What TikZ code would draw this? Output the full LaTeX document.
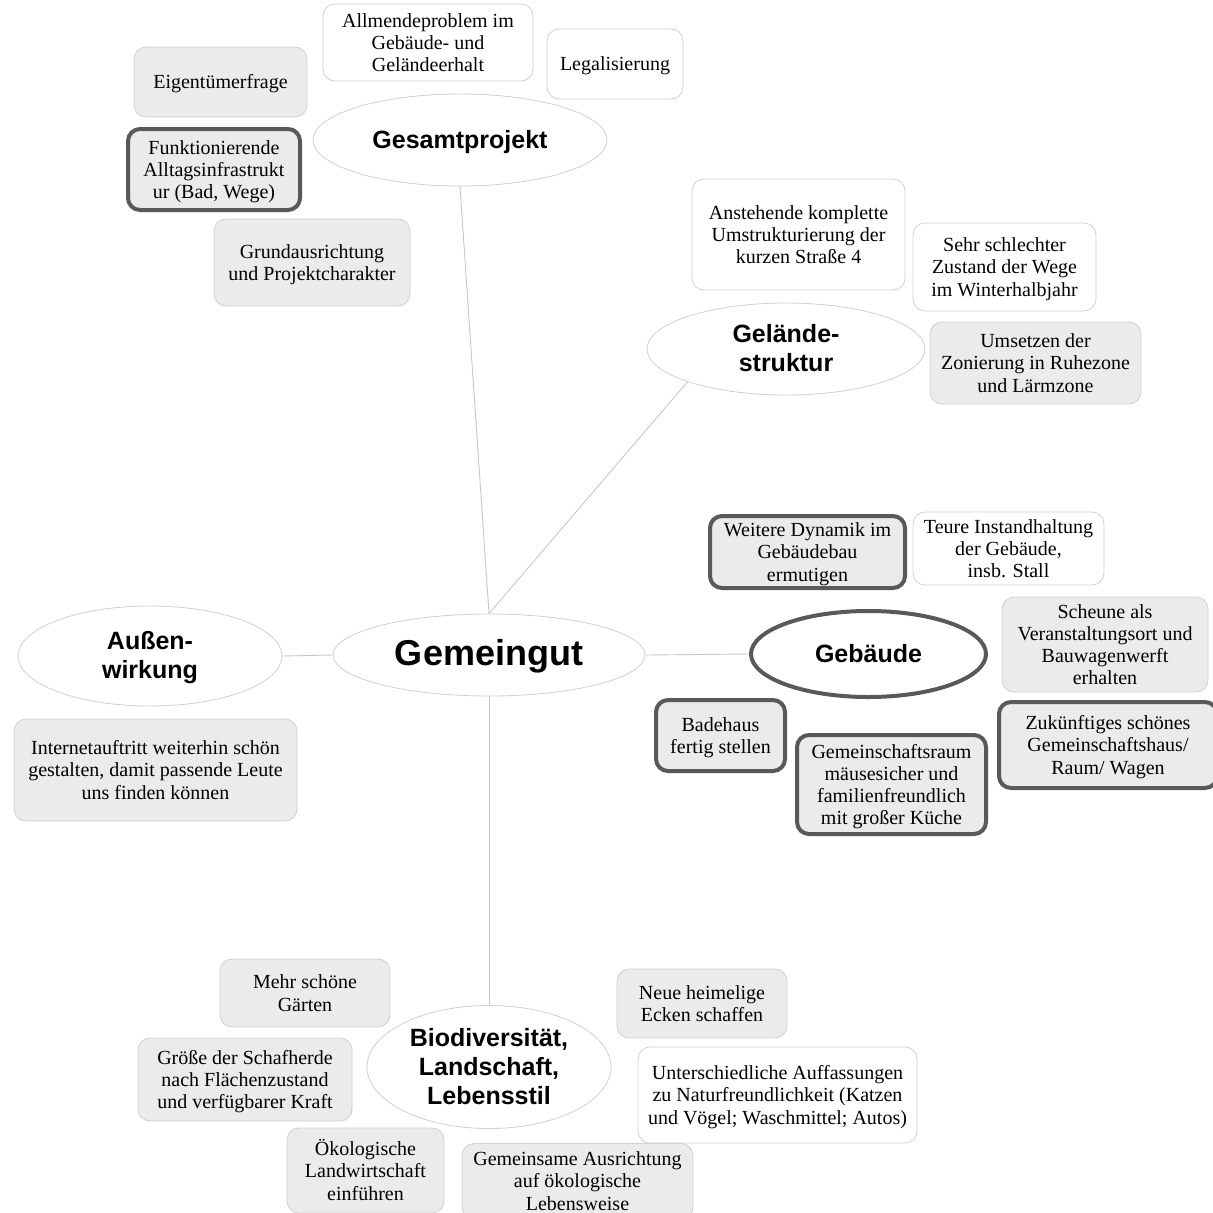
\documentclass[tikz,border=0pt]{standalone}
\usepackage{fontspec}
\setmainfont{Liberation Serif}
\newfontfamily\headfont{Liberation Sans}
\usetikzlibrary{shapes.geometric}

\definecolor{edgegray}{HTML}{C8C8C8}
\definecolor{boxline}{HTML}{D0D0D0}
\definecolor{strongline}{HTML}{595959}
\definecolor{boxfill}{HTML}{EBEBEB}

% centred lines, set a little below the geometric centre of the box
\newcommand{\tx}[1]{\raisebox{-2.5pt}[\height][\depth]{\begin{tabular}{@{}c@{}}#1\end{tabular}}}

\tikzset{
  leaf/.style={rectangle, rounded corners=12pt, draw=boxline, line width=0.8pt,
    fill=white, align=center, inner sep=0pt,
    font=\fontsize{20}{22.3}\selectfont},
  shaded/.style={fill=boxfill},
  strong/.style={draw=strongline, line width=4pt},
  topic/.style={ellipse, draw=boxline, line width=0.8pt, fill=white, inner sep=0pt,
    align=center, font=\headfont\bfseries\fontsize{25}{29}\selectfont},
  link/.style={draw=edgegray, line width=0.9pt},
}

\begin{document}
\begin{tikzpicture}[x=1pt, y=-1pt]
\useasboundingbox[fill=white] (0,0) rectangle (1213,1213);

% central topic and main branches
\node[topic, minimum width=312pt, minimum height=82pt,
      font=\headfont\bfseries\fontsize{36}{40}\selectfont] (gm) at (489,655) {\tx{Gemeingut}};
\node[topic, minimum width=294pt, minimum height=92pt] (gp) at (460,140) {\tx{Gesamtprojekt}};
\node[topic, minimum width=278pt, minimum height=92pt] (gs) at (786,349) {\tx{Gelände-\\struktur}};
\node[topic, strong, minimum width=235pt, minimum height=86pt] (geb) at (868.5,654) {\tx{Gebäude}};
\node[topic, minimum width=264pt, minimum height=100pt] (aus) at (150,656) {\tx{Außen-\\wirkung}};
\node[topic, minimum width=244pt, minimum height=114pt] (bio) at (489,1067) {\tx{Biodiversität,\\Landschaft,\\Lebensstil}};

% connectors from the centre
\draw[link] (gm.north) -- (gp.south);
\draw[link] (gm.north) -- (gs.south west);
\draw[link] (gm.east) -- (geb.west);
\draw[link] (gm.west) -- (aus.east);
\draw[link] (gm.south) -- (bio.north);

% Gesamtprojekt
\node[leaf, minimum width=210pt, minimum height=77pt] (allm) at (428,42.5) {\tx{Allmendeproblem im\\Gebäude- und\\Geländeerhalt}};
\node[leaf, minimum width=136pt, minimum height=70pt] (legal) at (615,64) {\tx{Legalisierung}};
\node[leaf, shaded, minimum width=173pt, minimum height=70pt] (eig) at (220.5,82) {\tx{Eigentümerfrage}};
\node[leaf, shaded, strong, minimum width=172pt, minimum height=81pt] (funk) at (214,169.5) {\tx{Funktionierende\\Alltagsinfrastrukt\\ur (Bad, Wege)}};
\node[leaf, shaded, minimum width=196pt, minimum height=87pt] (grund) at (312,262.5) {\tx{Grundausrichtung\\und Projektcharakter}};

% Geländestruktur
\node[leaf, minimum width=213pt, minimum height=111pt] (anst) at (798.5,234.5) {\tx{Anstehende komplette\\Umstrukturierung der\\kurzen Straße 4}};
\node[leaf, minimum width=183pt, minimum height=88pt] (sehr) at (1004.5,267) {\tx{Sehr schlechter\\Zustand der Wege\\im Winterhalbjahr}};
\node[leaf, shaded, minimum width=211pt, minimum height=82pt] (ums) at (1035.5,363) {\tx{Umsetzen der\\Zonierung in Ruhezone\\und Lärmzone}};

% Gebäude
\node[leaf, shaded, strong, minimum width=195pt, minimum height=72pt] (weit) at (807.5,552) {\tx{Weitere Dynamik im\\Gebäudebau\\ermutigen}};
\node[leaf, minimum width=191pt, minimum height=73pt] (teure) at (1008.5,548.5) {\tx{Teure Instandhaltung\\der Gebäude,\\insb. Stall}};
\node[leaf, shaded, minimum width=206pt, minimum height=95pt] (scheune) at (1105,644.5) {\tx{Scheune als\\Veranstaltungsort und\\Bauwagenwerft\\erhalten}};
\node[leaf, shaded, strong, minimum width=129pt, minimum height=71pt] (bade) at (720.5,735.5) {\tx{Badehaus\\fertig stellen}};
\node[leaf, shaded, strong, minimum width=189pt, minimum height=99pt] (gemr) at (891.5,784.5) {\tx{Gemeinschaftsraum\\mäusesicher und\\familienfreundlich\\mit großer Küche}};
\node[leaf, shaded, strong, minimum width=218pt, minimum height=86pt] (zuk) at (1108,745) {\tx{Zukünftiges schönes\\Gemeinschaftshaus/\\Raum/ Wagen}};

% Außenwirkung
\node[leaf, shaded, minimum width=283pt, minimum height=102pt] (inet) at (155.5,770) {\tx{Internetauftritt weiterhin schön\\gestalten, damit passende Leute\\uns finden können}};

% Biodiversität, Landschaft, Lebensstil
\node[leaf, shaded, minimum width=170pt, minimum height=68pt] (mehr) at (305,993) {\tx{Mehr schöne\\Gärten}};
\node[leaf, shaded, minimum width=214pt, minimum height=83pt] (groesse) at (245,1079.5) {\tx{Größe der Schafherde\\nach Flächenzustand\\und verfügbarer Kraft}};
\node[leaf, shaded, minimum width=157pt, minimum height=85pt] (oeko) at (365.5,1170.5) {\tx{Ökologische\\Landwirtschaft\\einführen}};
\node[leaf, shaded, minimum width=231pt, minimum height=75pt] (gemeins) at (577.5,1181) {\tx{Gemeinsame Ausrichtung\\auf ökologische\\Lebensweise}};
\node[leaf, shaded, minimum width=170pt, minimum height=69pt] (neue) at (702,1003.5) {\tx{Neue heimelige\\Ecken schaffen}};
\node[leaf, minimum width=279pt, minimum height=96pt] (unters) at (777.5,1095) {\tx{Unterschiedliche Auffassungen\\zu Naturfreundlichkeit (Katzen\\und Vögel; Waschmittel; Autos)}};
\end{tikzpicture}
\end{document}
